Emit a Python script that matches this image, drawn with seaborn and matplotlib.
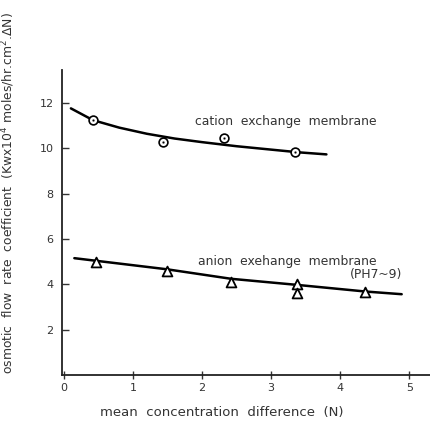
import numpy as np
import pandas as pd
import seaborn as sns
import matplotlib.pyplot as plt

# measured points
cation_x = [0.42, 1.44, 2.32, 3.34]
cation_y = [11.25, 10.3, 10.47, 9.84]
anion_x = [0.47, 1.49, 2.42, 3.38, 3.38, 4.36]
anion_y = [4.97, 4.61, 4.13, 4.01, 3.62, 3.66]

# hand-drawn trend curves
cation_fit_x = [0.1, 0.42, 0.8, 1.2, 1.6, 2.0, 2.5, 3.0, 3.4, 3.8]
cation_fit_y = [11.77, 11.25, 10.92, 10.65, 10.44, 10.28, 10.1, 9.95, 9.83, 9.74]
anion_fit_x = [0.15, 1.49, 2.42, 3.38, 4.36, 4.89]
anion_fit_y = [5.16, 4.67, 4.25, 3.98, 3.69, 3.57]

xticks = [0, 1, 2, 3, 4, 5]
yticks = [2, 4, 6, 8, 10, 12]

sns.set_style("ticks")
plt.rcParams['font.family'] = ['DejaVu Sans']

fig = plt.figure(figsize=(4.30, 4.21), dpi=100)
ax = fig.add_axes([0.144, 0.109, 0.856, 0.724])

sns.lineplot(x=cation_fit_x, y=cation_fit_y, ax=ax, color='black', lw=1.8, sort=False)
sns.lineplot(x=anion_fit_x, y=anion_fit_y, ax=ax, color='black', lw=1.8, sort=False)

sns.scatterplot(x=cation_x, y=cation_y, ax=ax, marker='o', s=40, facecolor='white',
                edgecolor='black', linewidth=1.2, zorder=3)
sns.scatterplot(x=cation_x, y=cation_y, ax=ax, marker='o', s=3, color='black', zorder=4)
sns.scatterplot(x=anion_x, y=anion_y, ax=ax, marker='^', s=50, facecolor='white',
                edgecolor='black', linewidth=1.3, zorder=3)

txt = dict(fontsize=8.9, color='#333333', va='center')
ax.text(1.9, 11.2, "cation  exchange  membrane", **txt)
ax.text(1.94, 5.0, "anion  exehange  membrane", **txt)
ax.text(4.9, 4.42, "(PH7~9)", ha='right', **txt)

ax.set_xlim(-0.03, 5.3)
ax.set_ylim(0, 13.45)
ax.set_xticks(xticks)
ax.set_xticklabels([str(t) for t in xticks])
ax.set_yticks(yticks)
ax.set_yticklabels([str(t) for t in yticks])
ax.tick_params(axis='y', direction='in', length=5, width=1, labelsize=8, pad=6, colors='#333333')
ax.tick_params(axis='x', direction='inout', length=6, width=1, labelsize=8, pad=3, colors='#333333')
sns.despine(ax=ax)
for s in ['left', 'bottom']:
    ax.spines[s].set_linewidth(1.3)
    ax.spines[s].set_color('#222222')

ax.set_xlabel("mean  concentration  difference  (N)", fontsize=9.5, color='#333333', ha='left')
ax.xaxis.set_label_coords(0.103, -0.1)
ax.set_ylabel("osmotic  flow  rate  coefficient  (Kwx10$^4$ moles/hr.cm$^2$.ΔN)",
              fontsize=8.9, color='#333333')
ax.yaxis.set_label_coords(-0.122, 0.597)

fig.savefig('out.png', dpi=100)
